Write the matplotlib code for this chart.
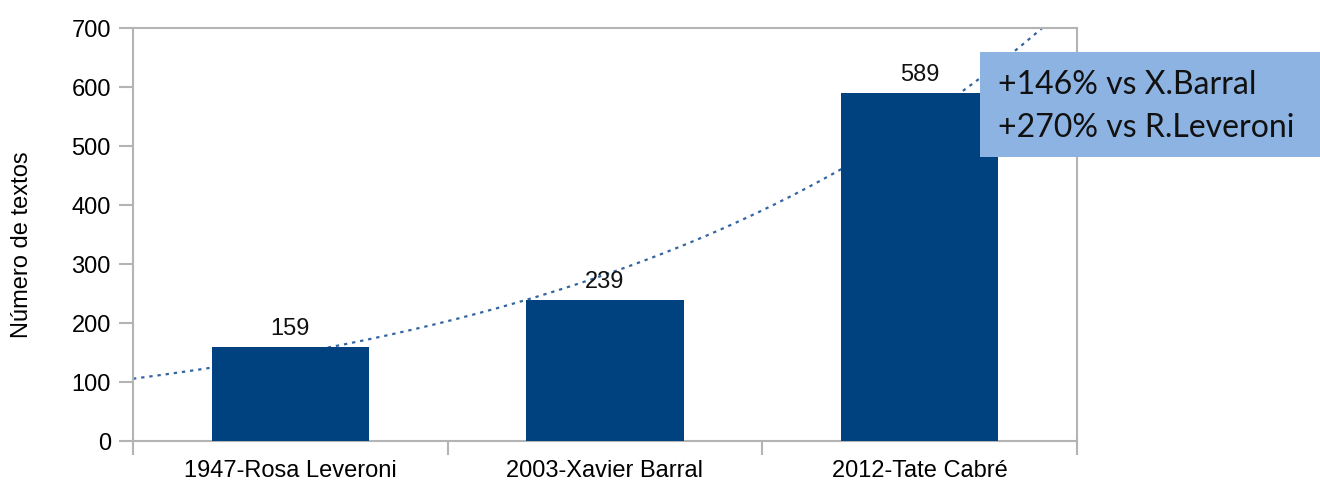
import numpy as np
import matplotlib
matplotlib.use("Agg")
import matplotlib.pyplot as plt
from matplotlib.patches import Rectangle

# ================================
# DADOS
# ================================
AUTORES = ["1947-Rosa Leveroni", "2003-Xavier Barral", "2012-Tate Cabré"]
TEXTOS = [159, 239, 589]
NOTA = ["+146% vs X.Barral", "+270% vs R.Leveroni"]
Y_TICKS = [0, 100, 200, 300, 400, 500, 600, 700]

COR_BARRA = "#00427f"
COR_TENDENCIA = "#3565a0"
COR_EIXO = "#b4b4b4"
COR_CAIXA = "#8db3e2"

plt.rcParams["font.family"] = ["Liberation Sans", "DejaVu Sans"]

fig = plt.figure(figsize=(13.2, 4.86), dpi=100)
ax = fig.add_axes([133 / 1320, 1 - 441 / 486, (1077 - 133) / 1320, (441 - 28) / 486])

x = np.arange(1, len(TEXTOS) + 1)
ax.bar(x, TEXTOS, width=0.5, color=COR_BARRA, zorder=3)
for xi, v in zip(x, TEXTOS):
    ax.text(xi, v + 12, str(v), ha="center", va="bottom", fontsize=17, color="#111111", zorder=4)

# linha de tendência exponencial
coef = np.polyfit(x, np.log(TEXTOS), 1)
xt = np.linspace(0.5, 3.5, 300)
ax.plot(xt, np.exp(np.polyval(coef, xt)), color=COR_TENDENCIA, lw=1.6,
        linestyle=(0, (1.5, 2.2)), zorder=2, clip_on=True)

ax.set_xlim(0.5, 3.5)
ax.set_ylim(0, 700)
ax.set_yticks(Y_TICKS)
ax.set_xticks(x)
ax.set_xticklabels(AUTORES)
ax.set_xticks(np.arange(0.5, 3.6, 1.0), minor=True)
ax.tick_params(axis="x", which="major", length=0, pad=14, labelsize=17)
ax.tick_params(axis="x", which="minor", length=10, width=1.5, color=COR_EIXO)
ax.tick_params(axis="y", length=10, width=1.5, color=COR_EIXO, labelsize=17, pad=6)
for s in ax.spines.values():
    s.set_color(COR_EIXO)
    s.set_linewidth(1.5)
ax.set_ylabel("Número de textos", fontsize=17)
ax.yaxis.set_label_coords(-0.106, 0.476)

# caixa de anotação
fig.patches.append(Rectangle((980 / 1320, 1 - 157 / 486), 0.3, 105 / 486,
                             transform=fig.transFigure, facecolor=COR_CAIXA,
                             edgecolor="none", zorder=5))
for i, linha in enumerate(NOTA):
    fig.text(998 / 1320, 1 - (85 + 43 * i) / 486, linha, fontsize=23,
             family=["Lato", "DejaVu Sans"], color="#111111", va="center", ha="left", zorder=6)

fig.savefig("out.png", dpi=100)
